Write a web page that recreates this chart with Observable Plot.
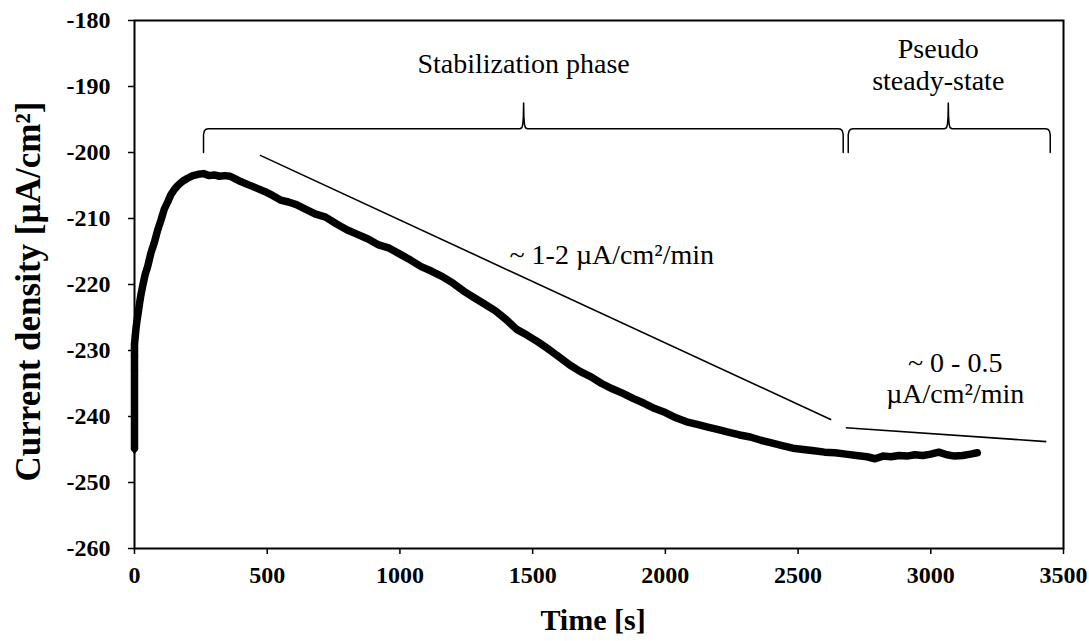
<!DOCTYPE html>
<html>
<head>
<meta charset="utf-8">
<script src="https://cdn.jsdelivr.net/npm/d3@7"></script>
<script src="https://cdn.jsdelivr.net/npm/@observablehq/plot@0.6"></script>
<style>
  html, body { margin: 0; padding: 0; background: #fff; }
  #chart svg { display: block; }
</style>
</head>
<body>
<div id="chart"></div>
<script>
// ---- data ----
const timeS = [0,0,0,0,0,3,6,10,15,20,25,32,40,50,62,75,87,100,112,125,137,150,163,180,200,220,240,260,280,300,320,340,360,380,400,430,460,490,520,550,580,610,640,680,720,760,800,840,880,920,960,1000,1040,1080,1120,1160,1200,1240,1280,1320,1360,1400,1440,1480,1520,1560,1600,1640,1680,1720,1760,1800,1840,1880,1920,1960,2000,2040,2080,2120,2160,2200,2240,2280,2320,2360,2400,2440,2480,2520,2560,2600,2640,2680,2720,2760,2790,2820,2850,2880,2910,2940,2970,3000,3030,3060,3090,3120,3150,3175];
const currentDensity = [-244.8,-233.0,-230.8,-229.7,-229.0,-227.8,-226.5,-225.3,-224.0,-222.6,-221.4,-220.0,-218.5,-217.2,-215.2,-213.6,-211.8,-210.2,-208.6,-207.5,-206.4,-205.6,-205.0,-204.4,-203.9,-203.5,-203.3,-203.2,-203.5,-203.4,-203.6,-203.5,-203.6,-204.0,-204.4,-204.9,-205.4,-205.9,-206.5,-207.2,-207.5,-207.9,-208.5,-209.3,-209.8,-210.8,-211.7,-212.4,-213.1,-214.0,-214.5,-215.4,-216.3,-217.3,-218.0,-218.8,-219.8,-221.0,-222.0,-223.0,-224.0,-225.3,-226.8,-227.7,-228.7,-229.8,-231.0,-232.2,-233.2,-234.0,-235.0,-235.8,-236.5,-237.3,-238.0,-238.8,-239.4,-240.2,-240.8,-241.2,-241.6,-242.0,-242.4,-242.8,-243.1,-243.6,-244.0,-244.4,-244.8,-245.0,-245.2,-245.4,-245.5,-245.7,-245.9,-246.1,-246.4,-246.0,-246.1,-245.9,-246.0,-245.8,-245.9,-245.7,-245.4,-245.8,-246.0,-245.9,-245.7,-245.5];

const xTicks = [0,500,1000,1500,2000,2500,3000,3500];
const yTicks = [-260,-250,-240,-230,-220,-210,-200,-190,-180];
const xLabel = "Time [s]";
const yLabel = "Current density [µA/cm²]";

// trend lines (start/end in data units)
const trendX1 = [472, 2680];
const trendY1 = [-200.4, -241.7];
const trendX2 = [2625, 3435];
const trendY2 = [-240.5, -243.8];

// braces: start, middle (tip), end in seconds; base, bar and tip heights
const braceStart = [260, 2689];
const braceMid   = [1466, 3066];
const braceEnd   = [2670, 3450];
const braceBase  = -200;
const braceBar   = -196.4;
const braceTip   = -192.5;

// annotation labels
const annoText = ["Stabilization phase", "Pseudo\nsteady-state", "~ 1-2 µA/cm²/min", "~ 0 - 0.5\nµA/cm²/min"];
const annoX = [1466, 3028, 1798, 3092];
const annoY = [-186.4, -186.6, -215.3, -234.1];

// ---- derived tables ----
const series = timeS.map((t, i) => ({t, j: currentDensity[i]}));
const trends = trendX1.map((x1, i) => ({x1, y1: trendY1[i], x2: trendX2[i], y2: trendY2[i]}));
const annos = annoText.map((text, i) => ({text, x: annoX[i], y: annoY[i]}));

// brace path points built from the brace definitions
const bracePts = [];
braceStart.forEach((x0, b) => {
  const xm = braceMid[b], x1 = braceEnd[b];
  const pts = [
    [x0, braceBase], [x0, braceBar - 0.9], [x0 + 3, braceBar - 0.35], [x0 + 9, braceBar - 0.08], [x0 + 18, braceBar],
    [xm - 14, braceBar], [xm - 7, braceBar + 0.15], [xm - 3.5, braceBar + 0.6], [xm - 1.2, braceBar + 1.6], [xm, braceTip],
    [xm + 1.2, braceBar + 1.6], [xm + 3.5, braceBar + 0.6], [xm + 7, braceBar + 0.15], [xm + 14, braceBar],
    [x1 - 18, braceBar], [x1 - 9, braceBar - 0.08], [x1 - 3, braceBar - 0.35], [x1, braceBar - 0.9], [x1, braceBase]
  ];
  pts.forEach(([x, y]) => bracePts.push({x, y, b}));
});

const serif = "'Liberation Serif', 'Times New Roman', serif";
const fmt = d => String(d);

const chart = Plot.plot({
  width: 1089,
  height: 641,
  marginLeft: 134,
  marginRight: 26,
  marginTop: 20,
  marginBottom: 93,
  style: { fontFamily: serif, background: "#fff", color: "#000" },
  x: { domain: [0, 3500] },
  y: { domain: [-260, -180] },
  marks: [
    Plot.axisX({ ticks: xTicks, tickFormat: fmt, tickSize: 6, tickPadding: 11, label: null, fontSize: 24, fontWeight: "bold", strokeWidth: 1.5 }),
    Plot.axisY({ ticks: yTicks, tickFormat: fmt, tickSize: 6, tickPadding: 18, label: null, fontSize: 24, fontWeight: "bold", strokeWidth: 1.5 }),
    Plot.frame({ stroke: "#000", strokeWidth: 2 }),
    Plot.line(series, { x: "t", y: "j", stroke: "#000", strokeWidth: 7.5, strokeLinejoin: "round", strokeLinecap: "round" }),
    Plot.dot(series.slice(0, 6), { x: "t", y: "j", symbol: "diamond", r: 4, fill: "#000" }),
    Plot.link(trends, { x1: "x1", y1: "y1", x2: "x2", y2: "y2", stroke: "#000", strokeWidth: 1.6 }),
    Plot.line(bracePts, { x: "x", y: "y", z: "b", stroke: "#000", strokeWidth: 1.5, curve: "linear" }),
    Plot.text(annos, { x: "x", y: "y", text: "text", fontSize: 28, lineHeight: 1.12, fill: "#000" }),
    Plot.text([yLabel], { frameAnchor: "left", textAnchor: "middle", dx: -106, dy: 7, rotate: -90, fontSize: 35, fontWeight: "bold", fill: "#000" }),
    Plot.text([xLabel], { frameAnchor: "bottom", dx: -6, dy: 81, fontSize: 30, fontWeight: "bold", fill: "#000" })
  ]
});
document.getElementById("chart").appendChild(chart);
</script>
</body>
</html>
